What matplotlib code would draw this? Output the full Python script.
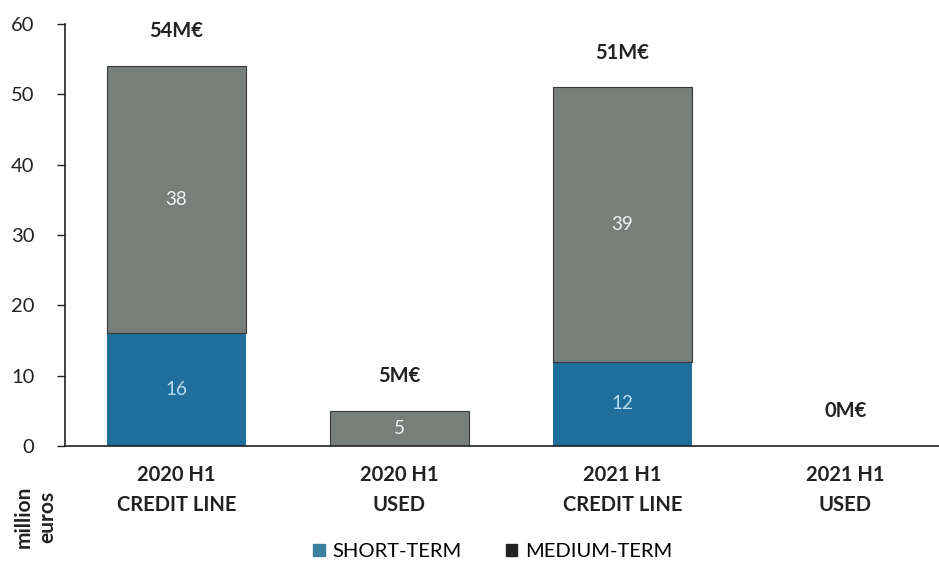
import matplotlib
matplotlib.use("Agg")
from matplotlib import pyplot as plt
from matplotlib.patches import Patch

categories = ["2020 H1\nCREDIT LINE", "2020 H1\nUSED", "2021 H1\nCREDIT LINE", "2021 H1\nUSED"]
short_term = [16, 0, 12, 0]
medium_term = [38, 5, 39, 0]
yticks = [0, 10, 20, 30, 40, 50, 60]

blue = "#1f6e9c"
gray = "#787f7b"

plt.rcParams['font.family'] = ['Lato', 'DejaVu Sans']

fig = plt.figure(figsize=(9.39, 5.72), dpi=100)
ax = fig.add_axes([0.069, 0.2203, 0.931, 0.7377])

x = list(range(len(categories)))
totals = [s + m for s, m in zip(short_term, medium_term)]

ax.bar(x, short_term, width=0.625, color=blue, linewidth=0)
ax.bar(x, medium_term, width=0.625, bottom=short_term, color=gray,
       edgecolor="#3a3a3a", linewidth=0.8)

# values inside segments
for i in x:
    if short_term[i] > 0:
        ax.text(i, short_term[i] / 2, str(short_term[i]), ha='center', va='center',
                fontsize=13.5, color="#b8dcef")
    if medium_term[i] > 0:
        ax.text(i, short_term[i] + medium_term[i] / 2, str(medium_term[i]),
                ha='center', va='center', fontsize=13.5, color="#f2f2f2")
    # totals above
    ax.annotate(f"{totals[i]}M€", (i, totals[i]), xytext=(0, 25),
                textcoords='offset points', ha='center', va='center',
                fontsize=14.5, fontweight='bold', color="#222222")

ax.set_xlim(-0.5, 3.42)
ax.set_ylim(0, 60)
ax.set_yticks(yticks)
ax.set_xticks(x)
ax.set_xticklabels(categories, fontsize=14.5, fontweight='bold', color="#222222",
                   linespacing=1.6)
ax.tick_params(axis='x', length=0, pad=14)
ax.tick_params(axis='y', length=6, width=1, labelsize=14.5, colors="#222222", pad=16)

for side in ['top', 'right']:
    ax.spines[side].set_visible(False)
ax.spines['left'].set_color("#222222")
ax.spines['bottom'].set_color("#222222")
ax.spines['left'].set_linewidth(1.2)
ax.spines['bottom'].set_linewidth(1.2)

fig.text(0.038, 0.097, "million\neuros", rotation=90, ha='center', va='center',
         fontsize=15, fontweight='bold', color="#222222", linespacing=1.25)

handles = [Patch(color="#3c82a0", label="SHORT-TERM"),
           Patch(color="#222222", label="MEDIUM-TERM")]
fig.legend(handles=handles, loc='center', bbox_to_anchor=(0.525, 0.035), ncol=2,
           frameon=False, fontsize=14.5, handlelength=0.55, handleheight=0.55,
           handletextpad=0.4, columnspacing=2.2)

plt.savefig('out.png', dpi=100)
